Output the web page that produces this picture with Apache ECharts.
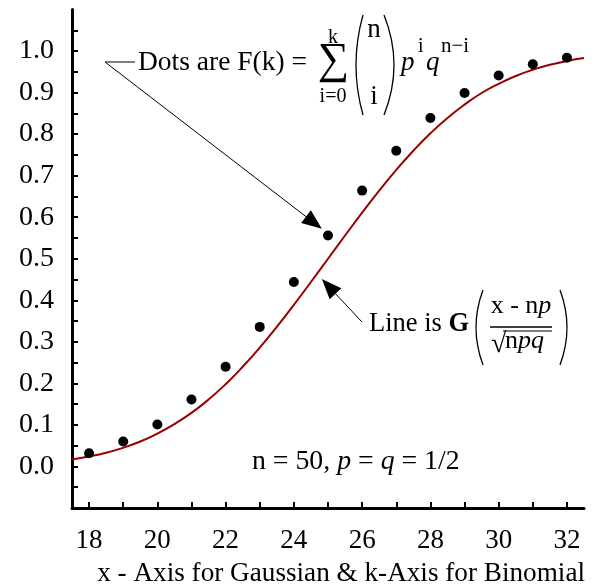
<!DOCTYPE html>
<html>
<head>
<meta charset="utf-8">
<script src="https://cdn.jsdelivr.net/npm/echarts@6/dist/echarts.min.js"></script>
<style>
html,body{margin:0;padding:0;background:#fff;}
#chart{width:597px;height:586px;}
</style>
</head>
<body>
<div id="chart"></div>
<script>
// Binomial CDF dots (k values and F(k))
var kValues = [18,19,20,21,22,23,24,25,26,27,28,29,30,31,32];
var binomialF = [0.032,0.060,0.101,0.161,0.240,0.336,0.444,0.556,0.664,0.760,0.839,0.899,0.941,0.968,0.984];
// Gaussian curve points
var curveX = [17.5,18,18.5,19,19.5,20,20.5,21,21.5,22,22.5,23,23.5,24,24.5,25,25.5,26,26.5,27,27.5,28,28.5,29,29.5,30,30.5,31,31.5,32,32.5];
var curveG = [0.017,0.024,0.033,0.045,0.060,0.079,0.102,0.129,0.161,0.198,0.240,0.286,0.336,0.389,0.444,0.500,0.556,0.611,0.664,0.714,0.760,0.802,0.839,0.871,0.899,0.921,0.940,0.955,0.967,0.976,0.983];
// Tick labels
var xTickValues = [18,19,20,21,22,23,24,25,26,27,28,29,30,31,32];
var xLabelValues = [18,20,22,24,26,28,30,32];
var yTickValues = [-0.05,0,0.05,0.1,0.15,0.2,0.25,0.3,0.35,0.4,0.45,0.5,0.55,0.6,0.65,0.7,0.75,0.8,0.85,0.9,0.95,1.0,1.05];
var yLabelValues = [0,0.1,0.2,0.3,0.4,0.5,0.6,0.7,0.8,0.9,1.0];

var FONT = "'Liberation Serif','Times New Roman',serif";
var chart = echarts.init(document.getElementById('chart'), null, {renderer:'canvas'});

var dotData = kValues.map(function(k,i){return [k, binomialF[i]];});
var lineData = curveX.map(function(x,i){return [x, curveG[i]];});

chart.setOption({
  animation:false,
  backgroundColor:'#fff',
  grid:{left:72, right:13, top:9.5, bottom:78, containLabel:false},
  xAxis:{
    type:'value', min:17.5, max:32.5,
    axisLine:{show:true, onZero:false, lineStyle:{color:'#000', width:3}},
    axisTick:{show:true, inside:true, length:6, lineStyle:{color:'#000', width:2}, customValues:xTickValues},
    axisLabel:{show:true, margin:19, color:'#000', fontFamily:FONT, fontSize:27, customValues:xLabelValues,
      formatter:function(v){return String(Math.round(v));}},
    splitLine:{show:false}
  },
  yAxis:{
    type:'value', min:-0.1, max:1.1,
    axisLine:{show:true, onZero:false, lineStyle:{color:'#000', width:3}},
    axisTick:{show:true, inside:true, length:6, lineStyle:{color:'#000', width:2}, customValues:yTickValues},
    axisLabel:{show:true, margin:18, color:'#000', fontFamily:FONT, fontSize:28, customValues:yLabelValues,
      formatter:function(v){return v.toFixed(1);}},
    splitLine:{show:false}
  },
  series:[
    {type:'line', data:lineData, smooth:true, showSymbol:false, symbol:'none',
     lineStyle:{color:'#990000', width:2}, z:2},
    {type:'scatter', data:dotData, symbol:'circle', symbolSize:10,
     itemStyle:{color:'#000', opacity:1}, z:3}
  ]
});

function arrow(from, tip, len, half){
  var dx = tip[0]-from[0], dy = tip[1]-from[1];
  var L = Math.sqrt(dx*dx+dy*dy);
  var ux = dx/L, uy = dy/L;
  var bx = tip[0]-len*ux, by = tip[1]-len*uy;
  var px = -uy, py = ux;
  return [
    {type:'line', shape:{x1:from[0], y1:from[1], x2:bx, y2:by}, style:{stroke:'#000', lineWidth:1}},
    {type:'polygon', shape:{points:[[tip[0],tip[1]],[bx+half*px,by+half*py],[bx-half*px,by-half*py]]}, style:{fill:'#000'}}
  ];
}

var tip1 = chart.convertToPixel({gridIndex:0},[24.82,0.572]);
var tip2 = chart.convertToPixel({gridIndex:0},[24.82,0.451]);

function txt(t, x, y, fs, opts){
  var s = {text:t, x:x, y:y, fontSize:fs, fontFamily:FONT, fill:'#000', textAlign:'left', textVerticalAlign:'middle'};
  if(opts){ for(var k in opts){ s[k]=opts[k]; } }
  return {type:'text', style:s, z:10};
}
function paren(x1, y1, cx, cy, x2, y2){
  return {type:'bezierCurve', shape:{x1:x1, y1:y1, x2:x2, y2:y2, cpx1:cx, cpy1:cy}, style:{stroke:'#000', lineWidth:1.3, fill:null}, z:10};
}

var g = [];
// Leader for "Dots" label
g.push({type:'line', shape:{x1:105,y1:62,x2:135,y2:62}, style:{stroke:'#000', lineWidth:1}});
g = g.concat(arrow([105,62], tip1, 20, 8));
g = g.concat(arrow([362,322], tip2, 20, 8));

// F(k) formula
g.push(txt('Dots are F(k) =', 138, 63, 27.5));
g.push(txt('\u2211', 333.5, 61, 44, {textAlign:'center'}));
g.push(txt('k', 333, 37.4, 20, {textAlign:'center'}));
g.push(txt('i=0', 333, 96.4, 20, {textAlign:'center'}));
g.push(paren(363, 15, 349, 65, 363, 115));
g.push(paren(384, 15, 404, 65, 384, 115));
g.push(txt('n', 374, 30, 27, {textAlign:'center'}));
g.push(txt('i', 374, 97, 27, {textAlign:'center'}));
g.push(txt('p', 401, 63, 27, {fontStyle:'italic'}));
g.push(txt('i', 418, 46.4, 20));
g.push(txt('q', 426, 63, 27, {fontStyle:'italic'}));
g.push(txt('n\u2212i', 441, 46.4, 21));

// Line is G(...)
g.push({type:'text', z:10, style:{text:'Line is {b|G}', x:369, y:324.4, fontSize:26.5, fontFamily:FONT, fill:'#000', textAlign:'left', textVerticalAlign:'middle',
  rich:{b:{fontWeight:'bold', fontSize:26.5, fontFamily:FONT}}}});
g.push(paren(483, 290, 469, 327.5, 483, 365));
g.push(paren(560, 290, 574, 327.5, 560, 365));
g.push({type:'text', z:10, style:{text:'x - n{i|p}', x:521, y:306.4, fontSize:26, fontFamily:FONT, fill:'#000', textAlign:'center', textVerticalAlign:'middle',
  rich:{i:{fontStyle:'italic', fontSize:26, fontFamily:FONT}}}});
g.push({type:'line', shape:{x1:490,y1:327,x2:552,y2:327}, style:{stroke:'#000', lineWidth:1.3}});
g.push(txt('\u221A', 491, 345, 28));
g.push({type:'line', shape:{x1:503,y1:331,x2:552,y2:331}, style:{stroke:'#000', lineWidth:1.2}});
g.push({type:'text', z:10, style:{text:'n{i|pq}', x:505, y:341.4, fontSize:26, fontFamily:FONT, fill:'#000', textAlign:'left', textVerticalAlign:'middle',
  rich:{i:{fontStyle:'italic', fontSize:26, fontFamily:FONT}}}});

// n = 50, p = q = 1/2
g.push({type:'text', z:10, style:{text:'n = 50, {i|p} = {i|q} = 1/2', x:252, y:461.5, fontSize:27.8, fontFamily:FONT, fill:'#000', textAlign:'left', textVerticalAlign:'middle',
  rich:{i:{fontStyle:'italic', fontSize:27.8, fontFamily:FONT}}}});

// x axis title
g.push(txt('x - Axis for Gaussian & k-Axis for Binomial', 585, 573.4, 27.2, {textAlign:'right'}));

chart.setOption({graphic:{elements:g}});
</script>
</body>
</html>
